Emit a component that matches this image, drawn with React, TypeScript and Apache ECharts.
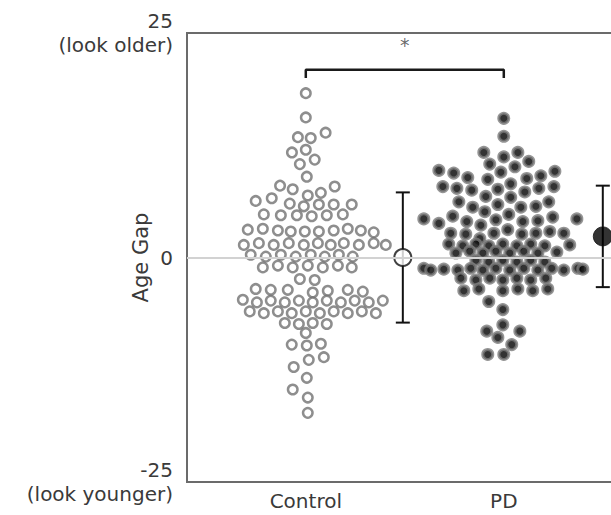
import React, { useEffect, useRef } from "react";
import * as echarts from "echarts";

const categories = ["Control", "PD"];
const yTickLabels: Record<string, string> = {
  "25": "25\n(look older)",
  "0": "0",
  "-25": "-25\n(look younger)",
};

// [horizontal offset from category centre (category units), age gap (years)]
const controlPoints: number[][] = [
  [0.0, 18.3], [0.0, 15.6], [-0.04, 13.4], [0.025, 13.3], [0.1, 13.9],
  [-0.07, 11.7], [0.0, 12.0], [0.045, 10.9], [-0.03, 10.4], [0.005, 9.0],
  [-0.13, 8.0], [-0.066, 7.6], [0.01, 6.9], [0.076, 7.2], [0.146, 7.9],
  [-0.253, 6.3], [-0.172, 6.6], [-0.081, 6.0], [-0.01, 5.7], [0.066, 5.9], [0.141, 5.9], [0.232, 5.9],
  [-0.212, 4.8], [-0.126, 4.7], [-0.045, 4.7], [0.03, 4.6], [0.106, 4.7], [0.187, 4.8],
  [-0.293, 3.1], [-0.217, 3.2], [-0.141, 3.0], [-0.076, 2.9], [-0.005, 2.9], [0.066, 2.9],
  [0.141, 3.0], [0.212, 3.2], [0.278, 3.0], [0.343, 2.8],
  [-0.313, 1.4], [-0.237, 1.6], [-0.162, 1.4], [-0.086, 1.6], [-0.01, 1.4], [0.061, 1.6],
  [0.126, 1.4], [0.192, 1.6], [0.268, 1.4], [0.343, 1.6], [0.404, 1.4],
  [-0.278, 0.3], [-0.202, 0.1], [-0.126, 0.3], [-0.051, 0.1], [0.025, 0.3], [0.096, 0.1], [0.167, 0.3], [0.237, 0.1],
  [-0.217, -1.1], [-0.141, -0.9], [-0.066, -1.1], [0.01, -0.9], [0.086, -1.1], [0.162, -0.9], [0.232, -1.1],
  [-0.03, -2.4], [0.045, -2.5],
  [-0.253, -3.5], [-0.177, -3.6], [-0.091, -3.6], [0.035, -3.9], [0.111, -3.7], [0.212, -3.6], [0.288, -3.8],
  [-0.318, -4.7], [-0.247, -5.0], [-0.177, -4.8], [-0.106, -5.0], [-0.035, -4.8], [0.035, -5.0],
  [0.106, -4.8], [0.177, -5.0], [0.247, -4.8], [0.318, -5.0], [0.389, -4.8],
  [-0.283, -6.0], [-0.212, -6.2], [-0.141, -6.0], [-0.071, -6.2], [0.0, -6.0], [0.071, -6.2],
  [0.141, -6.0], [0.212, -6.2], [0.283, -6.0], [0.354, -6.2],
  [-0.106, -7.3], [-0.035, -7.4], [0.035, -7.3], [0.106, -7.4],
  [0.0, -8.4],
  [-0.071, -9.7], [0.005, -9.8], [0.076, -9.6],
  [-0.061, -12.2], [0.015, -11.4], [0.091, -11.1], [0.005, -13.4], [-0.066, -14.7], [0.01, -15.6], [0.01, -17.3],
];

const pdPoints: number[][] = [
  [0.0, 15.5], [0.0, 13.5],
  [-0.101, 11.7], [0.0, 11.2], [0.071, 11.7],
  [-0.071, 10.4], [0.056, 10.1], [0.126, 10.7],
  [-0.015, 9.5], [-0.328, 9.7], [-0.253, 9.4], [-0.182, 8.9], [-0.081, 8.7], [0.116, 8.8], [0.187, 9.1], [0.258, 9.6],
  [-0.308, 7.9], [-0.237, 7.7], [-0.162, 7.5], [-0.091, 6.8], [-0.03, 7.6], [0.035, 8.2], [0.106, 7.3], [0.177, 7.7], [0.253, 7.9],
  [-0.227, 6.2], [-0.157, 5.6], [-0.03, 5.9], [0.035, 6.7], [0.086, 5.6], [0.162, 5.7], [0.227, 6.2], [-0.096, 5.1],
  [-0.404, 4.3], [-0.328, 3.8], [-0.258, 4.6], [-0.187, 4.0], [-0.116, 3.6], [-0.04, 4.2],
  [0.025, 4.8], [0.096, 4.0], [0.172, 4.1], [0.247, 4.5], [0.369, 4.3],
  [-0.268, 2.7], [-0.192, 2.6], [-0.121, 2.1], [-0.05, 2.7], [0.02, 3.1], [0.091, 2.6], [0.162, 2.7], [0.232, 2.9], [0.303, 2.7],
  [-0.278, 1.5], [-0.207, 1.3], [-0.141, 1.5], [-0.076, 1.3], [-0.005, 1.5], [0.066, 1.3], [0.136, 1.5], [0.207, 1.3], [0.333, 1.4],
  [-0.242, 0.5], [-0.172, 0.7], [-0.106, 0.5], [-0.04, 0.7], [0.03, 0.5], [0.101, 0.7], [0.172, 0.5], [0.268, 0.6],
  [-0.141, -0.3], [-0.076, -0.5], [-0.005, -0.3], [0.066, -0.5], [0.136, -0.3], [0.207, -0.5],
  [-0.404, -1.2], [-0.369, -1.4], [-0.303, -1.3], [-0.232, -1.4], [-0.167, -1.2], [-0.106, -1.4], [-0.04, -1.2],
  [0.03, -1.4], [0.101, -1.2], [0.172, -1.4], [0.242, -1.2], [0.303, -1.4], [0.374, -1.2], [0.399, -1.3],
  [-0.217, -2.3], [-0.141, -2.5], [-0.071, -2.3], [-0.005, -2.5], [0.066, -2.3], [0.136, -2.5], [0.212, -2.3],
  [-0.202, -3.7], [-0.126, -3.5], [-0.005, -3.7], [0.071, -3.5], [0.146, -3.7], [0.222, -3.5],
  [-0.076, -4.9], [-0.005, -5.8],
  [-0.005, -7.5], [-0.086, -8.2], [0.081, -8.2], [-0.03, -8.9], [0.04, -9.7], [-0.081, -10.8], [0.0, -10.8],
];

// group summary: position offset, mean and mean ± SD
const summaryOffsets = [0.49, 0.5];
const summaryMeans = [0.0, 2.35];
const summaryLows = [-7.25, -3.3];
const summaryHighs = [7.25, 8.0];

// significance bracket
const bracketTop = 20.9;
const bracketFoot = 20.0;
const starLevel = 22.6;
const starText = "*";

const FONT = "DejaVu Sans";
const TEXT_COLOR = "#3a3a3a";

export default function App() {
  const ref = useRef<HTMLDivElement>(null);

  useEffect(() => {
    if (!ref.current) return;
    const chart = echarts.init(ref.current, null, { renderer: "svg" });

    const controlData = controlPoints.map(([o, v]) => [0 + o, v]);
    const pdData = pdPoints.map(([o, v]) => [1 + o, v]);
    const errData = summaryOffsets.map((o, i) => [i + o, summaryLows[i], summaryHighs[i]]);

    const option: any = {
      animation: false,
      textStyle: { fontFamily: FONT },
      grid: {
        left: 187,
        right: -21.5,
        top: 33,
        bottom: 33,
        show: true,
        borderColor: "#6b6b6b",
        borderWidth: 2,
        backgroundColor: "transparent",
        containLabel: false,
        outerBoundsMode: "none",
      },
      xAxis: {
        type: "value",
        min: -0.6,
        max: 1.65,
        axisLine: { show: false },
        axisTick: { show: false },
        splitLine: { show: false },
        axisLabel: {
          customValues: [0, 1],
          formatter: (v: number) => categories[Math.round(v)] ?? "",
          fontSize: 20,
          color: TEXT_COLOR,
          fontFamily: FONT,
          margin: 9,
        },
      },
      yAxis: {
        type: "value",
        min: -25,
        max: 25,
        interval: 25,
        name: "Age Gap",
        nameLocation: "middle",
        nameGap: 36,
        nameRotate: 90,
        nameMoveOverlap: false,
        nameTextStyle: { fontSize: 21, color: TEXT_COLOR, fontFamily: FONT },
        axisLine: { show: false },
        axisTick: { show: false },
        splitLine: { show: false },
        axisLabel: {
          formatter: (v: number) => yTickLabels[String(v)] ?? String(v),
          fontSize: 20,
          lineHeight: 24,
          color: TEXT_COLOR,
          fontFamily: FONT,
          margin: 14,
        },
      },
      series: [
        {
          type: "line",
          z: 1,
          symbol: "none",
          data: [
            [0, bracketFoot],
            [0, bracketTop],
            [1, bracketTop],
            [1, bracketFoot],
          ],
          lineStyle: { color: "#1a1a1a", width: 2.5 },
          markLine: {
            silent: true,
            symbol: "none",
            label: { show: false },
            lineStyle: { color: "#d2d2d2", width: 2, type: "solid" },
            data: [{ yAxis: 0 }],
          },
        },
        {
          type: "scatter",
          z: 2,
          data: [[0.5, starLevel]],
          symbol: "circle",
          symbolSize: 1,
          itemStyle: { color: "rgba(0,0,0,0)" },
          label: {
            show: true,
            position: "top",
            distance: 0,
            formatter: starText,
            fontSize: 19,
            color: "#444444",
            fontFamily: FONT,
          },
        },
        {
          type: "scatter",
          z: 2,
          data: controlData,
          symbol: "circle",
          symbolSize: 9.5,
          itemStyle: { color: "#ffffff", borderColor: "#727272", borderWidth: 2.5 },
        },
        {
          type: "scatter",
          z: 2,
          data: pdData,
          symbol: "circle",
          symbolSize: 10,
          itemStyle: { color: "#000000", borderColor: "#7a7a7a", borderWidth: 3 },
        },
        {
          type: "custom",
          z: 3,
          data: errData,
          encode: { x: 0, y: [1, 2] },
          renderItem: (_params: any, api: any) => {
            const x = api.value(0);
            const lo = api.value(1);
            const hi = api.value(2);
            const pt = api.coord([x, hi]);
            const pb = api.coord([x, lo]);
            const hw = 7;
            const style = { stroke: "#111111", lineWidth: 2 };
            return {
              type: "group",
              children: [
                { type: "line", shape: { x1: pt[0], y1: pt[1], x2: pb[0], y2: pb[1] }, style },
                { type: "line", shape: { x1: pt[0] - hw, y1: pt[1], x2: pt[0] + hw, y2: pt[1] }, style },
                { type: "line", shape: { x1: pb[0] - hw, y1: pb[1], x2: pb[0] + hw, y2: pb[1] }, style },
              ],
            };
          },
        },
        {
          type: "scatter",
          z: 4,
          data: [[0 + summaryOffsets[0], summaryMeans[0]]],
          symbol: "circle",
          symbolSize: 17,
          itemStyle: { color: "#ffffff", borderColor: "#111111", borderWidth: 2 },
        },
        {
          type: "scatter",
          z: 4,
          data: [[1 + summaryOffsets[1], summaryMeans[1]]],
          symbol: "circle",
          symbolSize: 19,
          itemStyle: { color: "#000000", borderColor: "#111111", borderWidth: 1 },
        },
      ],
    };

    chart.setOption(option);
    return () => chart.dispose();
  }, []);

  return (
    <div
      ref={ref}
      style={{ position: "fixed", left: 0, top: 0, width: 611, height: 515, background: "#fff" }}
    />
  );
}
